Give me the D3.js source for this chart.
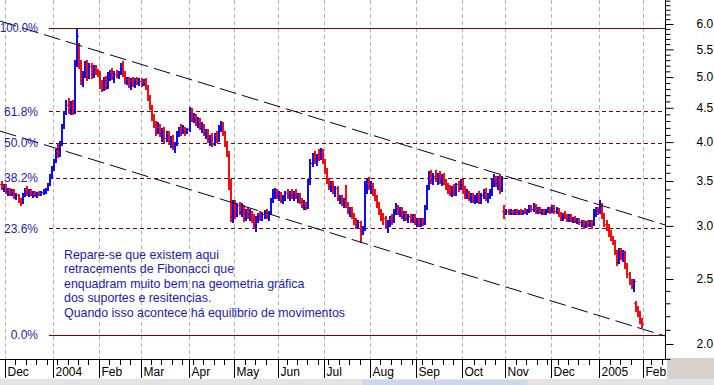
<!DOCTYPE html>
<html><head><meta charset="utf-8">
<script src="https://cdn.jsdelivr.net/npm/d3@7/dist/d3.min.js"></script>
<style>html,body{margin:0;padding:0;background:#fff;}svg{display:block;}</style>
</head><body>
<svg id="c" width="714" height="385"></svg>
<script>
// ---------- data ----------
const startDate = "2003-11-27";   // first trading day shown; one value per weekday
const open = [
3.46,3.42,3.44,3.38,3.40,3.35,3.38,3.32,3.34,3.28,3.25,3.34,
3.40,3.36,3.38,3.34,3.36,3.33,3.35,3.34,3.37,3.38,
3.40,3.46,3.56,3.66,3.76,3.88,3.84,3.98,4.22,4.42,
4.55,4.48,4.55,4.44,5.25,5.60,5.20,4.95,5.05,5.22,
5.00,5.20,5.05,5.18,5.10,5.08,4.85,4.80,4.96,4.84,
5.05,5.08,5.00,5.06,5.04,5.08,5.22,5.06,4.94,4.96,
4.86,4.95,4.90,4.96,4.92,4.94,4.88,4.94,4.82,4.65,
4.50,4.35,4.25,4.15,4.22,4.12,4.18,4.05,4.12,4.02,
4.04,3.95,3.98,4.12,4.18,4.14,4.20,4.14,4.18,4.45,
4.34,4.38,4.28,4.32,4.20,4.24,4.12,4.15,4.04,4.08,
3.98,4.10,4.04,4.22,4.26,4.14,3.98,3.85,3.48,3.10,
3.24,3.12,3.22,3.15,3.20,3.08,3.16,3.12,3.14,3.08,
3.02,3.08,3.12,3.10,3.13,3.15,3.10,3.14,3.28,3.36,
3.38,3.32,3.35,3.28,3.30,3.36,3.33,3.36,3.34,3.37,
3.32,3.34,3.26,3.22,3.25,3.20,3.48,3.72,3.80,3.76,
3.82,3.80,3.86,3.75,3.62,3.50,3.44,3.46,3.40,3.42,
3.30,3.32,3.24,3.28,3.22,3.16,3.18,3.10,3.05,3.02,
3.04,2.95,2.98,3.42,3.48,3.44,3.46,3.36,3.30,3.22,
3.14,3.10,3.08,3.00,3.04,3.08,3.06,3.16,3.20,3.14,
3.18,3.10,3.14,3.08,3.10,3.06,3.10,3.04,3.06,3.02,
3.06,3.03,3.20,3.42,3.58,3.52,3.56,3.54,3.58,3.50,
3.55,3.48,3.44,3.40,3.36,3.42,3.36,3.46,3.42,3.48,
3.38,3.34,3.36,3.30,3.34,3.28,3.30,3.34,3.26,3.34,
3.38,3.30,3.34,3.36,3.50,3.54,3.48,3.52,3.40,3.16,
3.14,3.16,3.14,3.16,3.13,3.16,3.15,3.16,3.14,3.16,
3.15,3.17,3.20,3.18,3.22,3.16,3.18,3.15,3.16,3.14,
3.17,3.18,3.16,3.20,3.16,3.18,3.12,3.08,3.12,3.10,
3.07,3.10,3.06,3.08,3.05,3.06,3.04,3.05,3.00,3.04,
3.02,3.04,3.02,3.16,3.18,3.16,3.22,3.10,3.02,3.00,
2.92,2.88,2.84,2.74,2.65,2.76,2.72,2.74,2.62,2.54,
2.48,2.44,2.30,2.26,2.22,2.17];
const high = [
3.50,3.46,3.46,3.42,3.42,3.40,3.40,3.36,3.35,3.30,3.36,3.42,
3.44,3.40,3.40,3.38,3.38,3.37,3.38,3.38,3.40,3.42,
3.48,3.58,3.68,3.78,3.90,3.98,4.02,4.25,4.45,4.62,
4.66,4.60,4.62,5.30,5.92,5.62,5.30,5.10,5.28,5.30,
5.25,5.25,5.22,5.22,5.14,5.10,4.95,5.00,5.02,5.08,
5.12,5.15,5.10,5.12,5.10,5.25,5.28,5.10,5.00,5.00,
4.98,5.00,4.98,5.00,4.98,4.98,4.96,4.98,4.86,4.70,
4.55,4.40,4.30,4.28,4.26,4.20,4.22,4.15,4.16,4.08,
4.10,4.00,4.15,4.22,4.25,4.24,4.22,4.20,4.52,4.50,
4.42,4.40,4.36,4.35,4.28,4.26,4.18,4.18,4.10,4.12,
4.12,4.15,4.24,4.30,4.28,4.16,4.02,3.88,3.52,3.28,
3.28,3.25,3.26,3.24,3.22,3.18,3.20,3.18,3.16,3.12,
3.10,3.14,3.16,3.15,3.17,3.18,3.16,3.30,3.40,3.42,
3.40,3.38,3.37,3.34,3.38,3.40,3.38,3.40,3.38,3.40,
3.36,3.36,3.30,3.28,3.26,3.52,3.78,3.85,3.88,3.84,
3.90,3.92,3.90,3.78,3.66,3.54,3.50,3.50,3.44,3.44,
3.34,3.34,3.30,3.45,3.26,3.20,3.20,3.14,3.08,3.06,
3.05,3.00,3.50,3.52,3.55,3.50,3.48,3.40,3.33,3.26,
3.18,3.14,3.10,3.06,3.10,3.12,3.18,3.24,3.22,3.20,
3.20,3.16,3.16,3.12,3.12,3.12,3.12,3.08,3.08,3.08,
3.08,3.22,3.45,3.62,3.64,3.60,3.64,3.60,3.62,3.58,
3.60,3.52,3.48,3.45,3.44,3.46,3.48,3.50,3.52,3.52,
3.44,3.40,3.38,3.36,3.36,3.34,3.36,3.38,3.36,3.40,
3.42,3.36,3.40,3.52,3.58,3.56,3.56,3.58,3.56,3.22,
3.18,3.18,3.18,3.17,3.18,3.18,3.17,3.18,3.17,3.19,
3.18,3.22,3.22,3.24,3.23,3.20,3.20,3.18,3.18,3.18,
3.20,3.20,3.22,3.22,3.20,3.19,3.15,3.14,3.16,3.12,
3.12,3.12,3.09,3.10,3.08,3.08,3.06,3.06,3.05,3.06,
3.06,3.06,3.18,3.20,3.20,3.28,3.25,3.14,3.06,3.02,
2.96,2.90,2.86,2.76,2.78,2.78,2.76,2.75,2.64,2.56,
2.50,2.50,2.32,2.28,2.24,2.19];
const low = [
3.40,3.38,3.36,3.34,3.33,3.33,3.30,3.29,3.26,3.22,3.24,3.32,
3.34,3.32,3.33,3.31,3.32,3.31,3.33,3.33,3.35,3.36,
3.39,3.45,3.54,3.64,3.74,3.80,3.82,3.96,4.20,4.40,
4.42,4.40,4.40,4.42,5.20,5.15,4.88,4.85,5.00,4.95,
4.98,4.98,5.00,5.05,5.02,4.82,4.76,4.78,4.80,4.82,
4.95,4.96,4.92,5.00,4.98,5.06,5.02,4.90,4.88,4.84,
4.80,4.85,4.84,4.88,4.86,4.85,4.86,4.80,4.62,4.48,
4.32,4.22,4.10,4.12,4.08,4.02,4.00,4.02,3.98,3.94,
3.90,3.87,3.96,4.08,4.10,4.12,4.10,4.12,4.16,4.30,
4.28,4.24,4.22,4.18,4.14,4.10,4.05,4.00,3.96,3.95,
3.96,4.00,4.02,4.15,4.10,3.95,3.82,3.40,3.05,3.04,
3.08,3.10,3.12,3.10,3.05,3.06,3.08,3.06,3.04,2.98,
2.95,3.04,3.06,3.06,3.08,3.08,3.06,3.12,3.26,3.30,
3.30,3.28,3.26,3.25,3.28,3.30,3.28,3.30,3.28,3.30,
3.26,3.24,3.20,3.18,3.18,3.19,3.46,3.68,3.72,3.70,
3.76,3.78,3.72,3.60,3.48,3.40,3.38,3.36,3.32,3.28,
3.24,3.22,3.20,3.20,3.14,3.10,3.08,3.02,2.98,2.98,
2.84,2.92,2.96,3.36,3.40,3.36,3.34,3.28,3.20,3.12,
3.06,3.02,2.98,2.94,3.00,3.02,3.04,3.12,3.12,3.10,
3.08,3.06,3.06,3.04,3.04,3.04,3.02,3.00,3.00,3.00,
3.01,3.02,3.18,3.40,3.48,3.46,3.50,3.46,3.48,3.45,
3.46,3.40,3.36,3.34,3.32,3.34,3.34,3.38,3.40,3.36,
3.30,3.30,3.28,3.26,3.26,3.24,3.26,3.24,3.24,3.30,
3.28,3.26,3.30,3.34,3.44,3.44,3.40,3.36,3.38,3.08,
3.12,3.13,3.12,3.12,3.12,3.13,3.12,3.13,3.12,3.14,
3.13,3.15,3.16,3.16,3.14,3.14,3.14,3.13,3.13,3.13,
3.15,3.14,3.15,3.14,3.14,3.10,3.06,3.06,3.08,3.05,
3.05,3.05,3.04,3.04,3.03,3.02,3.00,2.98,2.99,3.00,
3.00,2.98,3.01,3.10,3.12,3.14,3.08,3.00,2.96,2.90,
2.86,2.82,2.72,2.62,2.64,2.68,2.66,2.60,2.52,2.46,
2.42,2.40,2.24,2.20,2.15,2.12];
const close = [
3.42,3.44,3.38,3.40,3.35,3.38,3.32,3.34,3.28,3.25,3.34,3.40,
3.36,3.38,3.34,3.36,3.33,3.35,3.34,3.37,3.38,3.40,
3.46,3.56,3.66,3.76,3.88,3.84,3.98,4.22,4.42,4.55,
4.48,4.55,4.44,5.25,5.75,5.20,4.95,5.05,5.22,5.00,
5.20,5.05,5.18,5.10,5.08,4.85,4.80,4.96,4.84,5.05,
5.08,5.00,5.06,5.04,5.08,5.22,5.06,4.94,4.96,4.86,
4.95,4.90,4.96,4.92,4.94,4.88,4.94,4.82,4.65,4.50,
4.35,4.25,4.15,4.22,4.12,4.18,4.05,4.12,4.02,4.04,
3.95,3.98,4.12,4.18,4.14,4.20,4.14,4.18,4.45,4.34,
4.38,4.28,4.32,4.20,4.24,4.12,4.15,4.04,4.08,3.98,
4.10,4.04,4.22,4.26,4.14,3.98,3.85,3.48,3.10,3.24,
3.12,3.22,3.15,3.20,3.08,3.16,3.12,3.14,3.08,3.02,
3.08,3.12,3.10,3.13,3.15,3.10,3.14,3.28,3.36,3.38,
3.32,3.35,3.28,3.30,3.36,3.33,3.36,3.34,3.37,3.32,
3.34,3.26,3.22,3.25,3.20,3.48,3.72,3.80,3.76,3.82,
3.80,3.86,3.75,3.62,3.50,3.44,3.46,3.40,3.42,3.30,
3.32,3.24,3.28,3.22,3.16,3.18,3.10,3.05,3.02,3.04,
2.95,2.98,3.42,3.48,3.44,3.46,3.36,3.30,3.22,3.14,
3.10,3.08,3.00,3.04,3.08,3.06,3.16,3.20,3.14,3.18,
3.10,3.14,3.08,3.10,3.06,3.10,3.04,3.06,3.02,3.06,
3.03,3.20,3.42,3.58,3.52,3.56,3.54,3.58,3.50,3.55,
3.48,3.44,3.40,3.36,3.42,3.36,3.46,3.42,3.48,3.38,
3.34,3.36,3.30,3.34,3.28,3.30,3.34,3.26,3.34,3.38,
3.30,3.34,3.36,3.50,3.54,3.48,3.52,3.40,3.54,3.14,
3.16,3.14,3.16,3.13,3.16,3.15,3.16,3.14,3.16,3.15,
3.17,3.20,3.18,3.22,3.16,3.18,3.15,3.16,3.14,3.17,
3.18,3.16,3.20,3.16,3.18,3.12,3.08,3.12,3.10,3.07,
3.10,3.06,3.08,3.05,3.06,3.04,3.05,3.00,3.04,3.02,
3.04,3.02,3.16,3.18,3.16,3.22,3.10,3.02,3.00,2.92,
2.88,2.84,2.74,2.65,2.76,2.72,2.74,2.62,2.54,2.48,
2.44,2.48,2.26,2.22,2.17,2.14];

const monthLabels = ["Dec","2004","Feb","Mar","Apr","May","Jun","Jul","Aug","Sep","Oct","Nov","Dec","2005","Feb"];
const priceMajor = [2.0,2.5,3.0,3.5,4.0,4.5,5.0,5.5,6.0];
const priceMinor = [1.9,2.1,2.2,2.3,2.4,2.6,2.7,2.8,2.9,3.1,3.2,3.3,3.4,3.6,3.7,3.8,3.9,4.1,4.2,4.3,4.4,4.6,4.7,4.8,4.9,5.1,5.2,5.3,5.4,5.6,5.7,5.8,5.9,6.1,6.2,6.3,6.4,6.5];
const fibHigh = 5.92, fibLow = 2.065;
const fibLevels = [1, 0.618, 0.5, 0.382, 0.236, 0];
const fibLabels = ["100.0%","61.8%","50.0%","38.2%","23.6%","0.0%"];
// trend lines: [trading-day index, price]
const upperTrend = [[-0.4, 6.06], [318.5, 3.01]];
const lowerTrend = [[-0.4, 4.155], [318.5, 2.056]];
const noteLines = [
  "Repare-se que existem aqui",
  "retracements de Fibonacci que",
  "enquadram muito bem na geometria gráfica",
  "dos suportes e resitencias.",
  "Quando isso acontece há equilibrio de movimentos"
];

// ---------- layout ----------
const W = 714, H = 385, PR = 665, PB = 359;
const FONT = "'Liberation Sans', Arial, sans-serif";
const BLUE_TXT = "#1c1cb0";
const svg = d3.select("#c");

// trading-day calendar (weekdays)
const parse = d3.timeParse("%Y-%m-%d");
const days = [];
for (let d = parse(startDate); d <= new Date(2005, 1, 18); d = d3.timeDay.offset(d, 1)) {
  const w = d.getDay(); if (w !== 0 && w !== 6) days.push(d);
}
const n = Math.min(open.length, high.length, low.length, close.length);

const x = d3.scaleLinear().domain([-0.4, 318.5]).range([0, PR]);
const y = d3.scaleLog().domain([2, 6]).range([344, 24]);

// backgrounds
svg.append("rect").attr("width", W).attr("height", H).attr("fill", "#fff");
svg.append("rect").attr("x", PR + 2).attr("y", PB - 1).attr("width", W - PR - 2).attr("height", H - PB + 1).attr("fill", "#d6d3ce");
svg.append("rect").attr("x", 0).attr("y", 379).attr("width", W).attr("height", 6).attr("fill", "#e4e4e4");
svg.append("rect").attr("x", 362).attr("y", 380).attr("width", 165).attr("height", 5).attr("fill", "#ccd7ea");

// month boundaries & week ticks
const monthIdx = [], weekIdx = [];
days.forEach((d, k) => {
  if (k > 0 && d.getMonth() !== days[k - 1].getMonth()) monthIdx.push(k);
  else if (d.getDay() === 1) weekIdx.push(k);
});

const px = v => Math.round(v) + 0.5;
const plot = svg.append("g");
plot.append("clipPath").attr("id", "clip").append("rect").attr("width", PR).attr("height", PB);
const inner = plot.append("g").attr("clip-path", "url(#clip)");

// vertical gridlines
inner.selectAll(".vg").data(monthIdx).join("line")
  .attr("x1", d => px(x(d))).attr("x2", d => px(x(d)))
  .attr("y1", 0).attr("y2", PB)
  .attr("stroke", "#b4b4b4").attr("stroke-dasharray", "4,3");

// fibonacci lines
const fibPrice = l => fibLow + l * (fibHigh - fibLow);
inner.selectAll(".fib").data(fibLevels).join("line")
  .attr("x1", 49).attr("x2", PR)
  .attr("y1", d => px(y(fibPrice(d)))).attr("y2", d => px(y(fibPrice(d))))
  .attr("stroke", "#800000")
  .attr("stroke-dasharray", d => (d === 0 || d === 1) ? null : "4,3");

// OHLC bars
const bars = d3.range(n).map(k => ({k, o: open[k], h: high[k], l: low[k], c: close[k]}));
const barG = inner.selectAll(".bar").data(bars).join("g")
  .attr("shape-rendering", "crispEdges")
  .attr("fill", b => b.c >= b.o ? "#0c0cf5" : "#f50c0c");
barG.append("rect")
  .attr("x", b => Math.round(x(b.k)))
  .attr("y", b => Math.round(y(b.h)))
  .attr("width", 2)
  .attr("height", b => Math.max(1, Math.round(y(b.l)) - Math.round(y(b.h)) + 1));
barG.append("rect")
  .attr("x", b => Math.round(x(b.k)) - 1).attr("y", b => Math.round(y(b.o)))
  .attr("width", 1).attr("height", 1);
barG.append("rect")
  .attr("x", b => Math.round(x(b.k)) + 2).attr("y", b => Math.round(y(b.c)))
  .attr("width", 1).attr("height", 1);

// trend lines
const tl = d3.line().x(d => x(d[0])).y(d => y(d[1]));
[upperTrend, lowerTrend].forEach(t => {
  inner.append("path").attr("d", tl(t)).attr("fill", "none")
    .attr("stroke", "#000030").attr("stroke-width", 1).attr("stroke-dasharray", "17,6");
});

// fib labels
svg.selectAll(".fl").data(fibLevels).join("text")
  .attr("x", 38).attr("y", d => y(fibPrice(d))).attr("dy", "0.36em")
  .attr("text-anchor", "end").attr("font-family", FONT).attr("font-size", 12)
  .attr("fill", BLUE_TXT)
  .attr("textLength", (d, i) => fibLabels[i].length > 5 ? 38 : null)
  .attr("lengthAdjust", "spacingAndGlyphs")
  .text((d, i) => fibLabels[i]);

// annotation
const note = svg.append("text").attr("font-family", FONT).attr("font-size", 12.4).attr("fill", BLUE_TXT);
noteLines.forEach((t, i) => note.append("tspan").attr("x", 64).attr("y", 259 + i * 14.4).text(t));

// right axis
svg.append("line").attr("x1", PR + 0.5).attr("x2", PR + 0.5).attr("y1", 0).attr("y2", PB).attr("stroke", "#000");
const ra = svg.append("g").attr("transform", `translate(${PR + 0.5},0)`);
ra.call(d3.axisRight(y).tickValues(priceMinor.filter(v => y(v) >= 0 && y(v) <= PB)).tickSize(5).tickFormat(""));
ra.select(".domain").remove();
const rb = svg.append("g").attr("transform", `translate(${PR + 0.5},0)`);
rb.call(d3.axisRight(y).tickValues(priceMajor).tickSize(8).tickPadding(23).tickFormat(d3.format(".1f")));
rb.select(".domain").remove();
rb.selectAll("text").attr("font-family", FONT).attr("font-size", 12).attr("fill", "#000");
svg.selectAll(".tick line").attr("stroke", "#000");

// bottom axis
svg.append("line").attr("x1", 0).attr("x2", PR + 1).attr("y1", PB + 0.5).attr("y2", PB + 0.5).attr("stroke", "#000");
const ba = svg.append("g");
ba.selectAll(".wt").data(weekIdx.filter(k => monthIdx.every(m => Math.abs(m - k) > 1))).join("line")
  .attr("x1", d => px(x(d))).attr("x2", d => px(x(d)))
  .attr("y1", PB).attr("y2", PB + 6).attr("stroke", "#000");
ba.selectAll(".mt").data(monthIdx).join("line")
  .attr("x1", d => px(x(d))).attr("x2", d => px(x(d)))
  .attr("y1", PB).attr("y2", 378).attr("stroke", "#000");
ba.selectAll(".ml").data(monthIdx).join("text")
  .attr("x", d => px(x(d)) + 2).attr("y", 375.5)
  .attr("font-family", FONT).attr("font-size", 12).attr("fill", "#000")
  .text((d, i) => monthLabels[i]);
</script>
</body></html>
